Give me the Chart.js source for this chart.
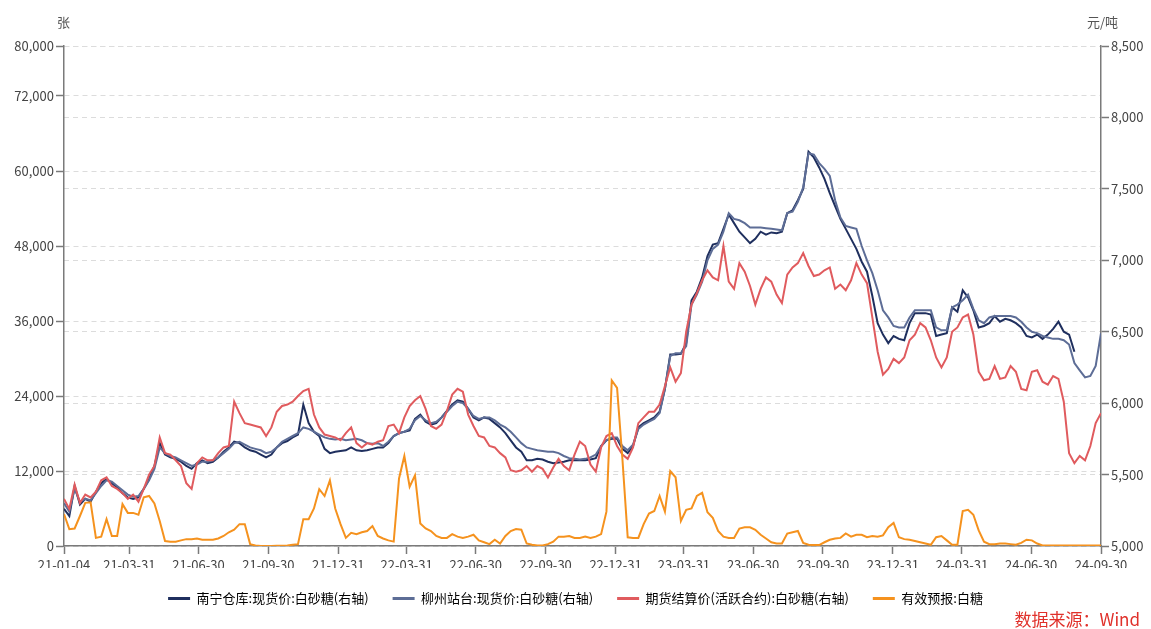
<!DOCTYPE html>
<html>
<head>
<meta charset="utf-8">
<script src="https://cdn.jsdelivr.net/npm/chart.js@4.4.1/dist/chart.umd.min.js"></script>
<style>
  html, body { margin: 0; padding: 0; background: #fff; }
  #wrap { position: relative; width: 1151px; height: 629px; }
  .unit { position: absolute; top: 12px; font: 13px "Noto Sans CJK SC", sans-serif; color: #555; }
  #source { position: absolute; right: 11px; top: 606px; font: 17px "Noto Sans CJK SC", sans-serif; color: #e0302a; }
</style>
</head>
<body>
<div id="wrap">
  <canvas id="chart" width="1151" height="629"></canvas>
  <div class="unit" style="left:57px">张</div>
  <div class="unit" style="left:1087px">元/吨</div>
  <div id="source">数据来源：Wind</div>
</div>
<script>
const START = Date.UTC(2021, 0, 4);
const DAY = 86400000;
const STEP_DAYS = 7; // weekly samples from 2021-01-04

const xTickLabels = [
  "21-01-04", "21-03-31", "21-06-30", "21-09-30", "21-12-31", "22-03-31", "22-06-30", "22-09-30",
  "22-12-31", "23-03-31", "23-06-30", "23-09-30", "23-12-31", "24-03-31", "24-06-30", "24-09-30",
];
const leftTicks = [0, 12000, 24000, 36000, 48000, 60000, 72000, 80000];
const rightTicks = [5000, 5500, 6000, 6500, 7000, 7500, 8000, 8500];

const seriesNames = [
  "南宁仓库:现货价:白砂糖(右轴)",
  "柳州站台:现货价:白砂糖(右轴)",
  "期货结算价(活跃合约):白砂糖(右轴)",
  "有效预报:白糖",
];
const seriesColors = ["#1f2f5e", "#5d6d96", "#e05b5e", "#f5921e"];

// 南宁仓库 现货价 (元/吨)
const nanning = [
  5260, 5210, 5420, 5290, 5330, 5310, 5380, 5440, 5470, 5440,
  5410, 5370, 5340, 5330, 5340, 5400, 5470, 5560, 5720, 5640,
  5620, 5610, 5590, 5560, 5540, 5580, 5600, 5580, 5590, 5620,
  5660, 5690, 5730, 5720, 5690, 5670, 5660, 5640, 5620, 5640,
  5690, 5720, 5735, 5760, 5780, 5990, 5860, 5800, 5770, 5680,
  5650, 5660, 5665, 5670, 5690, 5670, 5665, 5670, 5680, 5690,
  5690, 5720, 5770, 5790, 5800, 5810, 5890, 5920, 5870, 5850,
  5860, 5900, 5945, 5990, 6020, 6010, 5960, 5900, 5880, 5900,
  5890, 5860, 5830, 5790, 5740, 5690, 5660, 5600, 5600, 5610,
  5605, 5590, 5580, 5585, 5590, 5600, 5600, 5600, 5600, 5605,
  5615, 5700, 5740, 5750, 5750, 5680, 5650, 5700, 5830, 5860,
  5880, 5900, 5940, 6100, 6340, 6340, 6345, 6420, 6720, 6780,
  6880, 7030, 7110, 7120, 7220, 7320, 7260, 7200, 7160, 7120,
  7150, 7200, 7180, 7195, 7190, 7200, 7330, 7350, 7420, 7500,
  7760, 7720, 7650, 7570, 7470, 7380, 7290, 7220, 7150, 7080,
  6990, 6920, 6750, 6560, 6480, 6420, 6470, 6450, 6440, 6560,
  6630, 6630, 6630, 6620, 6470, 6480, 6490, 6670, 6640, 6790,
  6740, 6650, 6530, 6540, 6560, 6610, 6570, 6590, 6580, 6560,
  6530, 6470, 6460, 6480, 6450, 6480, 6520, 6570, 6500, 6480,
  6360, null, null, null, null, null,
];

// 柳州站台 现货价 (元/吨)
const liuzhou = [
  5300, 5240, 5400, 5310, 5330, 5320, 5370, 5420, 5460, 5450,
  5420, 5390, 5360, 5345, 5350, 5400, 5460, 5540, 5690, 5650,
  5630, 5620, 5600, 5580, 5560, 5570, 5590, 5590, 5600, 5620,
  5650, 5680, 5720, 5730, 5710, 5690, 5680, 5670, 5650, 5660,
  5690, 5730, 5750, 5770, 5790, 5830, 5820, 5800, 5780, 5760,
  5750, 5745, 5750, 5740, 5745, 5750, 5740, 5720, 5715, 5720,
  5700, 5730, 5770, 5790, 5800, 5820, 5880, 5910, 5880, 5860,
  5870, 5900, 5940, 5980, 6010, 6000, 5960, 5910, 5890, 5900,
  5900, 5880, 5850, 5830, 5800, 5760, 5720, 5690, 5680, 5670,
  5665, 5660, 5660, 5650, 5630, 5615, 5610, 5605, 5610, 5620,
  5640, 5700, 5740, 5760, 5760, 5700, 5670, 5710, 5820, 5850,
  5870, 5890, 5930, 6100, 6330, 6350, 6350, 6400, 6690, 6760,
  6850, 7000, 7080, 7110, 7200, 7330, 7290, 7280, 7260, 7230,
  7230, 7230, 7225, 7220, 7215, 7210, 7330, 7340, 7410, 7510,
  7750, 7740, 7680, 7640, 7590, 7420, 7300, 7240, 7230, 7220,
  7100, 7000, 6910, 6790, 6650, 6600, 6540, 6530, 6530, 6600,
  6650, 6650, 6650, 6650, 6530, 6510, 6510, 6670, 6690, 6720,
  6760, 6660, 6580, 6560, 6600, 6610, 6610, 6610, 6610, 6600,
  6570, 6530, 6500, 6490, 6470, 6460, 6450, 6450, 6440, 6410,
  6280, 6230, 6180, 6190, 6260, 6490,
];

// 期货结算价(活跃合约) (元/吨)
const futures = [
  5330, 5260, 5430, 5300, 5360, 5340, 5380, 5460, 5480, 5420,
  5400, 5370, 5330, 5360, 5310, 5400, 5500, 5560, 5760, 5650,
  5640, 5600, 5560, 5440, 5400, 5580, 5620, 5600, 5600, 5650,
  5690, 5700, 6010, 5930, 5860, 5850, 5840, 5830, 5770, 5830,
  5940, 5980, 5990, 6010, 6050, 6085, 6100, 5920, 5830, 5780,
  5770, 5760, 5740, 5790, 5830, 5720, 5690, 5720, 5710, 5730,
  5740, 5840, 5850, 5790, 5900, 5980, 6020, 6050, 5960, 5840,
  5820, 5850, 5945, 6060, 6100, 6080, 5920, 5840, 5770, 5760,
  5700, 5690, 5650, 5620, 5530, 5520, 5530, 5560, 5520, 5560,
  5540, 5480, 5550, 5610, 5560, 5530, 5640, 5730, 5700, 5570,
  5520, 5690, 5770, 5790, 5700, 5640, 5610, 5690, 5860, 5900,
  5940, 5940, 5990, 6120, 6250, 6150, 6210, 6500, 6690, 6770,
  6860, 6930, 6880, 6860, 7100, 6850, 6800, 6980, 6920, 6820,
  6690, 6800, 6880, 6850, 6760, 6700, 6900, 6950, 6980, 7050,
  6960, 6890, 6900, 6930, 6950, 6800, 6830, 6790, 6860, 6980,
  6900, 6840, 6600, 6360, 6200, 6240, 6310, 6280, 6320, 6440,
  6480, 6560, 6530, 6440, 6320, 6250, 6320, 6500, 6530, 6600,
  6620, 6480, 6220, 6160, 6170, 6260, 6170, 6180, 6260, 6220,
  6100, 6090, 6220, 6230, 6150, 6130, 6190, 6170, 6010, 5650,
  5580, 5630, 5600, 5700, 5860, 5930,
];

// 有效预报 白糖 (张)
const forecast = [
  5100, 2700, 2800, 4800, 6900, 7000, 1300, 1500, 4300, 1600,
  1600, 6700, 5300, 5300, 5000, 7800, 8000, 6800, 4000, 800,
  700, 700, 900, 1100, 1100, 1200, 1000, 1000, 1000, 1200,
  1600, 2200, 2600, 3500, 3500, 300, 100, 0, 0, 0,
  50, 50, 100, 200, 300, 4300, 4300, 6000, 9100, 8000,
  10500, 6000, 3500, 1300, 2100, 1900, 2200, 2400, 3200, 1600,
  1200, 900, 700, 10800, 14400, 9500, 11300, 3600, 2800, 2400,
  1600, 1300, 1300, 1900, 1500, 1300, 1500, 1800, 900, 600,
  300, 1000, 400, 1600, 2400, 2700, 2600, 400, 200, 100,
  100, 300, 700, 1500, 1500, 1600, 1300, 1300, 1500, 1300,
  1500, 1900, 5500, 26500, 25300, 14000, 1400, 1300, 1300, 3500,
  5200, 5600, 8000, 5500, 12000, 11000, 4000, 5800, 6000, 8000,
  8500, 5400, 4500, 2400, 1500, 1300, 1300, 2800, 3000, 3000,
  2600, 1800, 1200, 600, 400, 400, 2000, 2200, 2400, 500,
  200, 150, 150, 600, 1000, 1200, 1300, 2000, 1500, 1800,
  1800, 1400, 1600, 1500, 1700, 3000, 3700, 1400, 1100, 1000,
  800, 600, 400, 200, 1400, 1600, 900, 200, 200, 5600,
  5800, 5000, 2500, 700, 300, 300, 400, 400, 300, 200,
  500, 1000, 900, 400, 100, 100, 100, 100, 100, 100,
  100, 100, 100, 100, 100, 100,
];

function dayOf(label) {
  const [yy, mm, dd] = label.split("-").map(Number);
  return (Date.UTC(2000 + yy, mm - 1, dd) - START) / DAY;
}
const xTickDays = xTickLabels.map(dayOf);
const toPoints = (vals) => vals.map((v, i) => ({ x: i * STEP_DAYS, y: v }));

const FONT = "\"Noto Sans CJK SC\", \"Noto Sans\", sans-serif";
const AXIS_COLOR = "#7a7a7a";
const GRID_COLOR = "#dcdcdc";
const TICK_COLOR = "#444";

const seriesData = [nanning, liuzhou, futures, forecast];
const axisOf = ["yR", "yR", "yR", "yL"];
const drawOrder = [4, 3, 2, 1];

new Chart(document.getElementById("chart"), {
  type: "line",
  data: {
    datasets: seriesData.map((vals, i) => ({
      label: seriesNames[i],
      data: toPoints(vals),
      yAxisID: axisOf[i],
      borderColor: seriesColors[i],
      backgroundColor: seriesColors[i],
      borderWidth: 2,
      pointRadius: 0,
      tension: 0,
      spanGaps: false,
      order: drawOrder[i],
    })),
  },
  options: {
    responsive: false,
    animation: false,
    layout: { padding: { top: 46, bottom: 14, left: 0, right: 0 } },
    scales: {
      x: {
        type: "linear",
        min: 0,
        max: xTickDays[xTickDays.length - 1],
        afterBuildTicks: (s) => { s.ticks = xTickDays.map((v) => ({ value: v })); },
        afterFit: (s) => { s.height = 22; },
        ticks: {
          autoSkip: false,
          maxRotation: 0,
          padding: 3,
          color: TICK_COLOR,
          font: { size: 13, family: FONT },
          callback: (v, i) => xTickLabels[i],
        },
        grid: { drawOnChartArea: false, drawTicks: true, tickLength: 8, tickColor: AXIS_COLOR, tickWidth: 1.5 },
        border: { color: AXIS_COLOR, width: 1.5 },
      },
      yL: {
        position: "left",
        min: 0,
        max: 80000,
        afterBuildTicks: (s) => { s.ticks = leftTicks.map((v) => ({ value: v })); },
        afterFit: (s) => { s.width = 64; },
        ticks: {
          padding: 2,
          color: TICK_COLOR,
          font: { size: 13, family: FONT },
          callback: (v) => v.toLocaleString("en-US"),
        },
        grid: { color: GRID_COLOR, lineWidth: 1, tickLength: 8, tickColor: AXIS_COLOR, tickWidth: 1.5 },
        border: { color: AXIS_COLOR, width: 1.5, dash: [5, 4] },
      },
      yR: {
        position: "right",
        min: 5000,
        max: 8500,
        afterBuildTicks: (s) => { s.ticks = rightTicks.map((v) => ({ value: v })); },
        afterFit: (s) => { s.width = 50; },
        ticks: {
          padding: 2,
          color: TICK_COLOR,
          font: { size: 13, family: FONT },
          callback: (v) => v.toLocaleString("en-US"),
        },
        grid: { color: GRID_COLOR, lineWidth: 1, tickLength: 8, tickColor: AXIS_COLOR, tickWidth: 1.5 },
        border: { color: AXIS_COLOR, width: 1.5, dash: [5, 4] },
      },
    },
    plugins: {
      legend: {
        position: "bottom",
        labels: {
          usePointStyle: true,
          pointStyle: "line",
          pointStyleWidth: 22,
          padding: 24,
          color: "#333",
          font: { size: 13, family: FONT },
          generateLabels: (chart) => chart.data.datasets.map((ds, i) => ({
            text: ds.label,
            strokeStyle: ds.borderColor,
            fillStyle: ds.borderColor,
            lineWidth: 3,
            pointStyle: "line",
            hidden: false,
            datasetIndex: i,
          })),
        },
      },
      tooltip: { enabled: false },
    },
  },
});
</script>
</body>
</html>
